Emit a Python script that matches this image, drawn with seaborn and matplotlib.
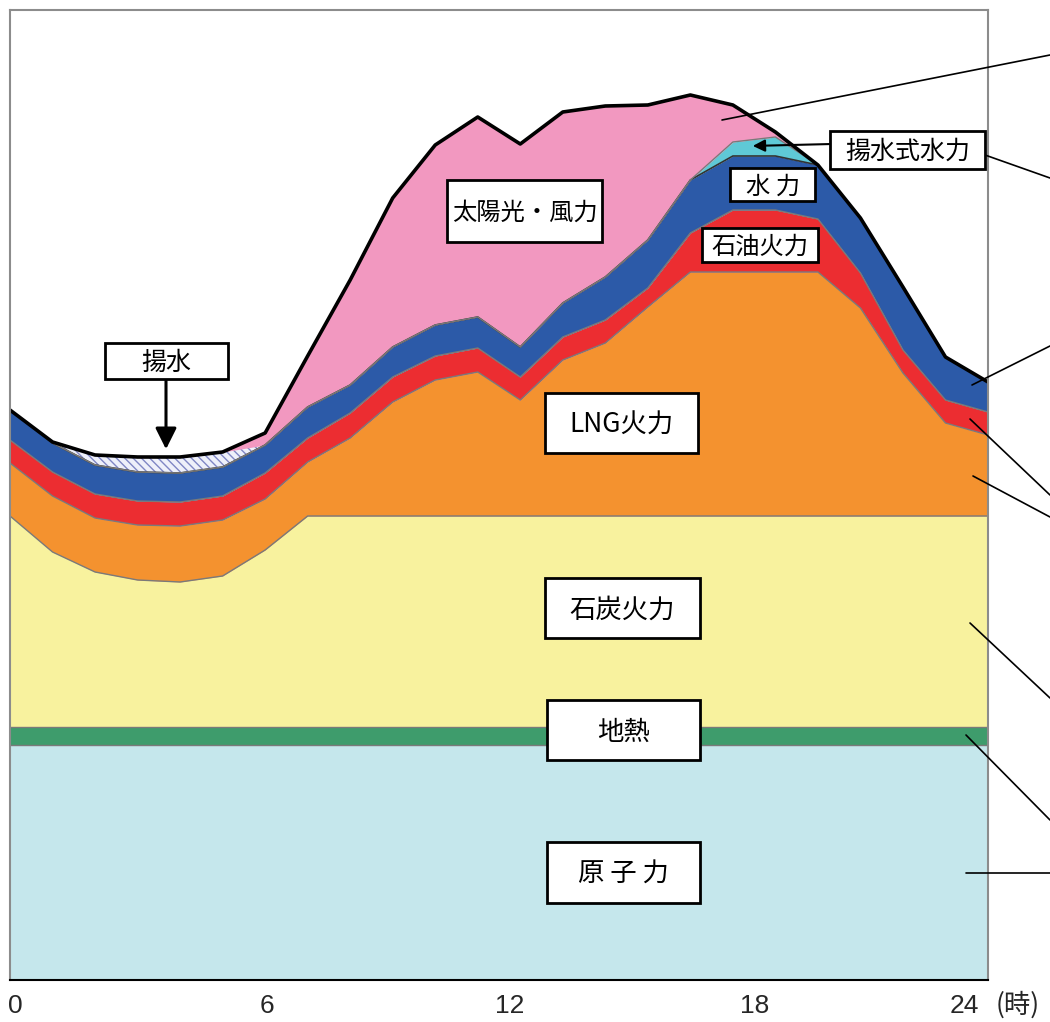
import numpy as np
import pandas as pd
import seaborn as sns
import matplotlib.pyplot as plt
from matplotlib.patches import Rectangle
from matplotlib.lines import Line2D

# 時間帯 (0時〜23時の24コマ)
hours = [0, 1, 2, 3, 4, 5, 6, 7, 8, 9, 10, 11, 12, 13, 14, 15, 16, 17, 18, 19, 20, 21, 22, 23]

# 電源別の積み上げ量 (目盛りのない相対値)
nuclear = [235, 235, 235, 235, 235, 235, 235, 235, 235, 235, 235, 235,
           235, 235, 235, 235, 235, 235, 235, 235, 235, 235, 235, 235]
geothermal = [18, 18, 18, 18, 18, 18, 18, 18, 18, 18, 18, 18,
              18, 18, 18, 18, 18, 18, 18, 18, 18, 18, 18, 18]
coal = [211, 175, 155, 147, 145, 151, 177, 211, 211, 211, 211, 211,
        211, 211, 211, 211, 211, 211, 211, 211, 211, 211, 211, 211]
lng = [53, 56, 54, 55, 56, 56, 51, 54, 78, 114, 136, 144,
       116, 156, 173, 209, 244, 244, 244, 244, 208, 143, 93, 81]
oil = [23, 24, 24, 24, 24, 24, 26, 24, 25, 25, 24, 24,
       23, 23, 23, 19, 39, 62, 62, 53, 35, 23, 23, 23]
hydro = [30, 29, 29, 29, 29, 29, 28, 31, 28, 30, 31, 31,
         30, 34, 43, 48, 53, 54, 54, 54, 55, 63, 43, 30]
pumped_gen = [0, 0, 0, 0, 0, 0, 0, 0, 0, 0, 0, 0,
              0, 0, 0, 0, 0, 14, 19, 0, 0, 0, 0, 0]
pumping = [0, 1, 10, 15, 16, 15, 0, 0, 0, 0, 0, 0,
           0, 0, 0, 0, 0, 0, 0, 0, 0, 0, 0, 0]
solar_wind = [0, 0, 0, 0, 0, 0, 12, 51, 105, 149, 180, 200,
              203, 191, 171, 135, 85, 37, 5, 0, 0, 0, 0, 0]

tick_labels = ['0', '6', '12', '18', '24']

W, H = 1050, 1022

sns.set_theme(style='white')
plt.rcParams['font.family'] = ['Noto Sans CJK JP', 'DejaVu Sans']

fig = plt.figure(figsize=(W / 100, H / 100), dpi=100)
ax = fig.add_axes([10 / W, 42 / H, 978 / W, 970 / H])

layers = [
    ('原子力', nuclear, '#C5E7EC'),
    ('地熱', geothermal, '#3E9C6C'),
    ('石炭火力', coal, '#F8F29E'),
    ('LNG火力', lng, '#F4922F'),
    ('石油火力', oil, '#EC2D31'),
    ('水力', hydro, '#2C5AA8'),
    ('揚水式水力', pumped_gen, '#5FC9D6'),
    ('揚水', pumping, None),
    ('太陽光・風力', solar_wind, '#F298C0'),
]
df = pd.DataFrame({name: vals for name, vals, _ in layers}, index=hours)
cum = df.cumsum(axis=1)

bottom = np.zeros(len(hours))
for name, vals, color in layers:
    top = cum[name].to_numpy()
    if name == '揚水':
        ax.fill_between(hours, bottom, top, facecolor='#eef0fa', edgecolor='#7f86c4',
                        hatch='\\\\\\\\', linewidth=0)
    else:
        ax.fill_between(hours, bottom, top, color=color, linewidth=0)
        edge = '#333333' if name == '水力' else '#7a7a7a'
        sns.lineplot(x=hours, y=top, color=edge, lw=1.2 if name == '水力' else 1.0, ax=ax)
    bottom = top

# 需要の外形線
sns.lineplot(x=hours, y=cum.iloc[:, -1].to_numpy(), color='black', lw=2.6, ax=ax)

ax.set_xlim(0, 23)
ax.set_ylim(0, 970)
ax.set_yticks([])
ax.set_xticks([0.12, 6.04, 11.76, 17.5, 22.45], tick_labels)
ax.tick_params(axis='x', length=0, pad=10, labelsize=19)
for lab in ax.get_xticklabels():
    lab.set_family(['Liberation Sans Narrow', 'Liberation Sans', 'DejaVu Sans'])
for side in ['left', 'top', 'right']:
    ax.spines[side].set_color('#8c8c8c')
    ax.spines[side].set_linewidth(1.5)
ax.spines['bottom'].set_color('black')
ax.spines['bottom'].set_linewidth(1.5)

fig.text(996 / W, 1 - 1005 / H, '(時)', ha='left', va='center', fontsize=19,
         family=['Noto Sans CJK JP', 'DejaVu Sans'])


def fx(x):
    return x / W


def fy(y):
    return 1 - y / H


def label_box(text, x0, y0, x1, y1, size):
    fig.add_artist(Rectangle((fx(x0), fy(y1)), (x1 - x0) / W, (y1 - y0) / H,
                             transform=fig.transFigure, facecolor='white',
                             edgecolor='black', lw=2.0, zorder=5))
    fig.text(fx((x0 + x1) / 2), fy((y0 + y1) / 2 + 2), text, ha='center', va='center',
             fontsize=size, color='black', zorder=6)


def leader(x0, y0, x1, y1, lw=1.2):
    fig.add_artist(Line2D([fx(x0), fx(x1)], [fy(y0), fy(y1)], color='black', lw=lw,
                          transform=fig.transFigure, zorder=4))


# 引き出し線
leader(722, 120, 1050, 55)
leader(985, 155, 1050, 178)
leader(972, 385, 1050, 346)
leader(970, 419, 1050, 495)
leader(973, 476, 1050, 517)
leader(970, 623, 1050, 698)
leader(966, 735, 1050, 820)
leader(966, 873, 1050, 873)

# 矢印
ax.annotate('', xy=(fx(166), fy(452)), xytext=(fx(166), fy(378)),
            xycoords='figure fraction', textcoords='figure fraction',
            arrowprops=dict(arrowstyle='-|>', mutation_scale=32, lw=2.2, color='black'))
ax.annotate('', xy=(fx(750), fy(146)), xytext=(fx(832), fy(144)),
            xycoords='figure fraction', textcoords='figure fraction',
            arrowprops=dict(arrowstyle='-|>', mutation_scale=18, lw=1.5, color='black'))

# ラベル
label_box('太陽光・風力', 447, 180, 602, 242, 17.5)
label_box('揚水式水力', 830, 131, 985, 169, 18)
label_box('水 力', 730, 168, 815, 201, 17.5)
label_box('石油火力', 702, 228, 818, 262, 17.5)
label_box('揚水', 105, 343, 228, 379, 18)
label_box('LNG火力', 545, 393, 698, 453, 19)
label_box('石炭火力', 545, 578, 700, 638, 19)
label_box('地熱', 547, 700, 700, 760, 19)
label_box('原 子 力', 547, 842, 700, 903, 19)

fig.savefig('out.png', dpi=100)
